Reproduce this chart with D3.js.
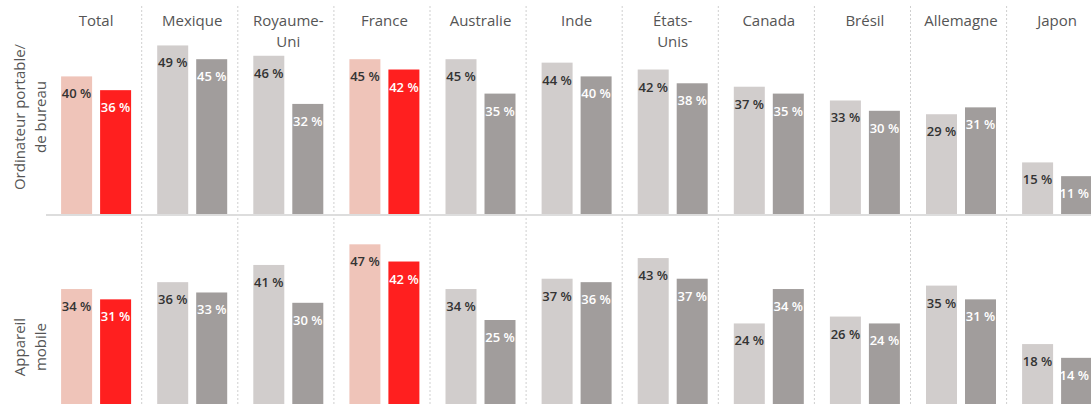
<!DOCTYPE html>
<html>
<head>
<meta charset="utf-8">
<script src="https://cdn.jsdelivr.net/npm/d3@7"></script>
<style>
  html, body { margin: 0; padding: 0; background: #fff; }
  svg { display: block; }
  text { font-family: "Open Sans", "Noto Sans", sans-serif; }
</style>
</head>
<body>
<svg id="chart" width="1091" height="404"></svg>
<script>
// ---- Data ----
const countries = ["Total", "Mexique", "Royaume-Uni", "France", "Australie", "Inde", "États-Unis", "Canada", "Brésil", "Allemagne", "Japon"];
const countryLabels = [["Total"], ["Mexique"], ["Royaume-", "Uni"], ["France"], ["Australie"], ["Inde"], ["États-", "Unis"], ["Canada"], ["Brésil"], ["Allemagne"], ["Japon"]];
const highlighted = ["Total", "France"];
const rows = ["Ordinateur portable/ de bureau", "Appareil mobile"];
const rowLabels = [["Ordinateur portable/", "de bureau"], ["Appareil", "mobile"]];
const series = ["s1", "s2"];
// desktop row
const desktopS1 = [40, 49, 46, 45, 45, 44, 42, 37, 33, 29, 15];
const desktopS2 = [36, 45, 32, 42, 35, 40, 38, 35, 30, 31, 11];
// mobile row
const mobileS1 = [34, 36, 41, 47, 34, 37, 43, 24, 26, 35, 18];
const mobileS2 = [31, 33, 30, 42, 25, 36, 37, 34, 24, 31, 14];

const rowData = [[desktopS1, desktopS2], [mobileS1, mobileS2]];

// ---- Layout ----
const W = 1091;
const svg = d3.select("#chart");
const colW = 96.1;
const x0 = 45.6;
const xCol = d3.scaleBand().domain(countries).range([x0, x0 + colW * countries.length]).paddingInner(0);
const xBar = d3.scaleBand().domain(series).range([15.5, 85.5]).paddingInner(8 / 39).paddingOuter(0);

const pxPerPct = 3.44;
const baselines = [214, 406];
const yScales = baselines.map(b => d3.scaleLinear().domain([0, 50]).range([b, b - 50 * pxPerPct]));

const colors = {
  normal: ["#d1cdcc", "#a19d9c"],
  high: ["#efc4b9", "#ff1f1f"]
};
const labelColors = ["#333333", "#ffffff"];

// dividers
svg.append("g").selectAll("line")
  .data(countries.slice(1))
  .join("line")
  .attr("x1", d => xCol(d)).attr("x2", d => xCol(d))
  .attr("y1", 6).attr("y2", 404)
  .attr("stroke", "#cfcfcf")
  .attr("stroke-width", 1)
  .attr("stroke-dasharray", "2,2");

// baseline of top row
svg.append("line")
  .attr("x1", 46).attr("x2", W)
  .attr("y1", baselines[0] + 1).attr("y2", baselines[0] + 1)
  .attr("stroke", "#dddddd").attr("stroke-width", 2);

// headers
const hdr = svg.append("g");
countries.forEach((c, i) => {
  const cx = xCol(c) + (xBar.range()[0] + xBar.range()[1]) / 2;
  countryLabels[i].forEach((line, j) => {
    hdr.append("text")
      .attr("x", cx)
      .attr("y", 26 + j * 20.5)
      .attr("text-anchor", "middle")
      .attr("font-size", 15)
      .attr("fill", "#555555")
      .text(line);
  });
});

// row labels
const rowCenters = [117, 347];
rowLabels.forEach((lines, r) => {
  lines.forEach((line, j) => {
    svg.append("text")
      .attr("transform", `translate(${25 + j * 20.5},${rowCenters[r]}) rotate(-90)`)
      .attr("text-anchor", "middle")
      .attr("font-size", 15)
      .attr("fill", "#555555")
      .text(line);
  });
});

// bars
rowData.forEach((vals, r) => {
  const y = yScales[r];
  const g = svg.append("g");
  countries.forEach((c, i) => {
    const pal = highlighted.includes(c) ? colors.high : colors.normal;
    series.forEach((s, k) => {
      const v = vals[k][i];
      const bx = xCol(c) + xBar(s);
      g.append("rect")
        .attr("x", bx)
        .attr("y", y(v))
        .attr("width", xBar.bandwidth())
        .attr("height", y(0) - y(v))
        .attr("fill", pal[k]);
      const t = g.append("text")
        .attr("x", bx + xBar.bandwidth() / 2)
        .attr("y", y(v) + 22)
        .attr("text-anchor", "middle")
        .attr("font-size", 13)
        .attr("font-weight", 600)
        .attr("fill", labelColors[k])
        .text(v + " %");
      // keep label inside the visible window
      const bb = t.node().getBBox();
      if (bb.x + bb.width > W - 2) {
        t.attr("x", +t.attr("x") - (bb.x + bb.width - (W - 2)));
      }
    });
  });
});
</script>
</body>
</html>
